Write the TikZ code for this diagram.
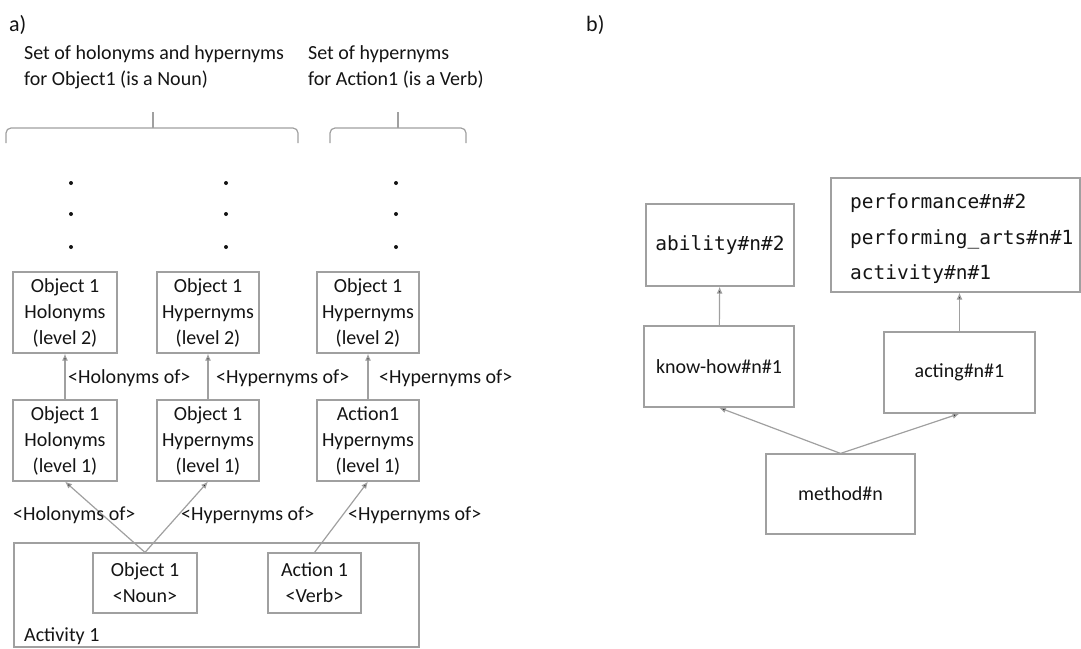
\documentclass[tikz,border=0pt]{standalone}
\usepackage{fontspec}
\setmainfont{Carlito}
\newfontfamily\codefont{DejaVu Sans Mono}
\usetikzlibrary{arrows.meta}
\definecolor{edge}{HTML}{A0A0A0}
\definecolor{ink}{HTML}{141414}
\begin{document}
\begin{tikzpicture}[x=1pt,y=-1pt,
  every node/.style={text=ink, font=\fontsize{20}{26}\selectfont},
  box/.style={draw=edge, line width=1.2pt, align=center, inner sep=0pt},
  lbl/.style={anchor=west, inner sep=0pt},
  link/.style={draw=edge, line width=1.2pt, -{Latex[length=7pt,width=6pt,fill=ink]}},
  brace/.style={draw=edge, line width=1.2pt, rounded corners=5pt},
  dot/.style={fill=ink, circle, inner sep=0pt, minimum size=4pt},
  code/.style={font=\codefont\fontsize{19.5}{35.5}\selectfont}]
\useasboundingbox (0,0) rectangle (1081,648);

% ---------- part a) ----------
\node[lbl, font=\fontsize{22}{26}\selectfont] (ta) at (9,25) {a)};
\node[lbl, align=left, anchor=north west] (setA) at (24,45) {Set of holonyms and hypernyms\\for Object1 (is a Noun)};
\node[lbl, align=left, anchor=north west] (setB) at (308,45) {Set of hypernyms\\for Action1 (is a Verb)};

% braces
\draw[brace] (6,143) -- (6,128) -- (298,128) -- (298,143);
\draw[edge, line width=1.2pt] (153,128) -- (153,112);
\draw[brace] (330,143) -- (330,128) -- (466,128) -- (466,143);
\draw[edge, line width=1.2pt] (398,128) -- (398,112);

% continuation dots
\foreach \c/\x in {a/71,b/226,c/396}{
  \foreach \r/\y in {1/183,2/214,3/247}{
    \node[dot] (dot\c\r) at (\x,\y) {};
  }
}

% level 2
\node[box, minimum width=104, minimum height=81] (h2) at (65,312.5) {Object 1\\Holonyms\\(level 2)};
\node[box, minimum width=102, minimum height=81] (y2) at (208,312.5) {Object 1\\Hypernyms\\(level 2)};
\node[box, minimum width=102, minimum height=81] (a2) at (368,312.5) {Object 1\\Hypernyms\\(level 2)};
% level 1
\node[box, minimum width=104, minimum height=81] (h1) at (65,440.5) {Object 1\\Holonyms\\(level 1)};
\node[box, minimum width=102, minimum height=81] (y1) at (208,440.5) {Object 1\\Hypernyms\\(level 1)};
\node[box, minimum width=102, minimum height=81] (a1) at (368,440.5) {Action1\\Hypernyms\\(level 1)};

% activity
\node[box, minimum width=405, minimum height=104] (act) at (216.5,595) {};
\node[lbl] (actlbl) at (24,636) {Activity 1};
\node[box, minimum width=104, minimum height=60] (noun) at (145,583) {Object 1\\<Noun>};
\node[box, minimum width=93, minimum height=60] (verb) at (314.5,583) {Action 1\\<Verb>};

% relations
\draw[link] (h1) -- (h2);
\draw[link] (y1) -- (y2);
\draw[link] (a1) -- (a2);
\draw[link] (noun.north) -- (h1.south);
\draw[link] (noun.north) -- (y1.south);
\draw[link] (verb.north) -- (a1.south);

\node[lbl] (l1) at (68,378) {<Holonyms of>};
\node[lbl] (l2) at (216,378) {<Hypernyms of>};
\node[lbl] (l3) at (379,378) {<Hypernyms of>};
\node[lbl] (l4) at (13,515) {<Holonyms of>};
\node[lbl] (l5) at (181,515) {<Hypernyms of>};
\node[lbl] (l6) at (348,515) {<Hypernyms of>};

% ---------- part b) ----------
\node[lbl, font=\fontsize{22}{26}\selectfont] (tb) at (586,25) {b)};

\node[box, code, minimum width=148, minimum height=82] (abil) at (720,245) {ability\#n\#2};
\node[box, minimum width=249, minimum height=114] (perf) at (955.5,235) {};
\node[lbl, code, align=left] (perftxt) at (850,239) {performance\#n\#2\\performing\_arts\#n\#1\\activity\#n\#1};
\node[box, minimum width=150, minimum height=81] (know) at (719,366.5) {know-how\#n\#1};
\node[box, minimum width=151, minimum height=81] (acting) at (959.5,372.5) {acting\#n\#1};
\node[box, minimum width=149, minimum height=80] (meth) at (840.5,494) {method\#n};

\draw[link] (know) -- (abil);
\draw[link] (acting.north) -- (acting.north |- perf.south);
\draw[link] (meth.north) -- (know.south);
\draw[link] (meth.north) -- (acting.south);
\end{tikzpicture}
\end{document}
